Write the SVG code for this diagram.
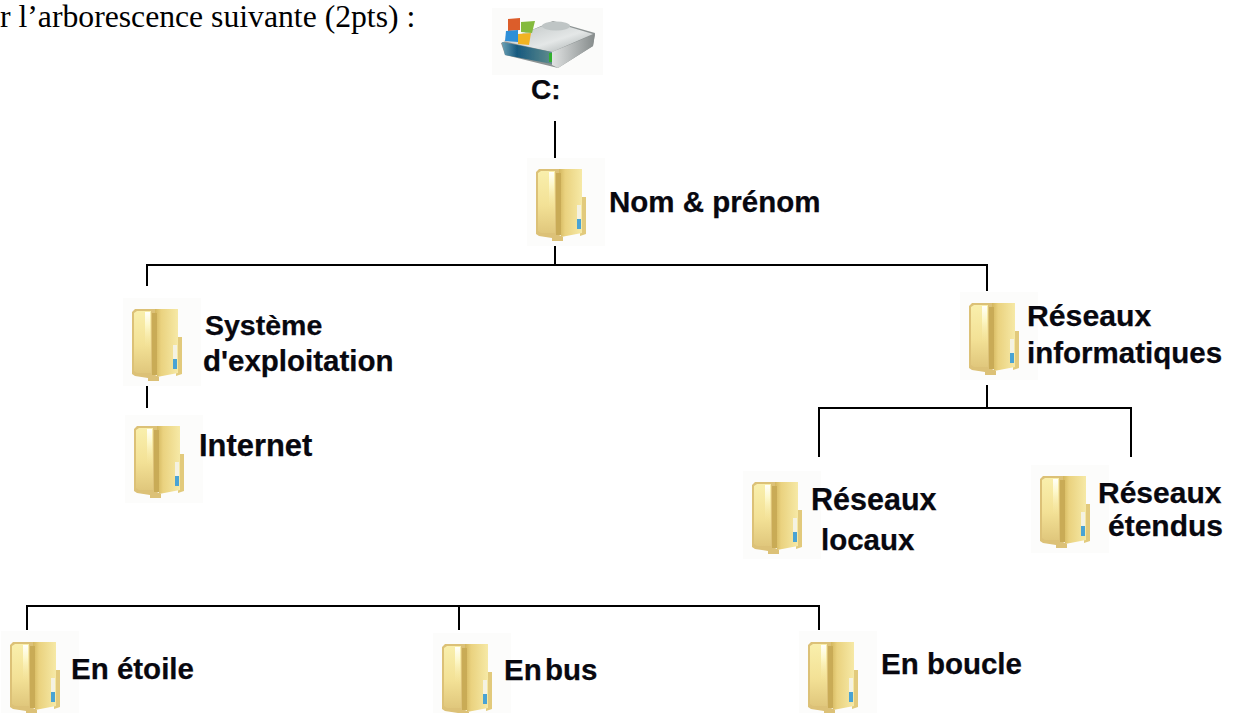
<svg xmlns="http://www.w3.org/2000/svg" width="1233" height="713" viewBox="0 0 1233 713">
<style>
.l{font-family:"Liberation Sans",Arial,sans-serif;font-weight:700;font-size:29.5px;fill:#08080f;stroke:#08080f;stroke-width:.25}
.c{fill:none;stroke:#000;stroke-width:2}
</style>
<defs>
<filter id="s" x="-10%" y="-10%" width="120%" height="120%"><feGaussianBlur stdDeviation=".7"/></filter>
<linearGradient id="a" x1="0" x2="0" y1="0" y2="1"><stop offset="0" stop-color="#f9efac"/><stop offset=".55" stop-color="#f3e196"/><stop offset="1" stop-color="#e0c77c"/></linearGradient>
<linearGradient id="b" x1="0" x2="1" y1="0" y2="0"><stop offset="0" stop-color="#d0b259"/><stop offset=".3" stop-color="#ead27f"/><stop offset="1" stop-color="#f6e9a6"/></linearGradient>
<linearGradient id="w" x1="0" x2="0" y1="0" y2="1"><stop offset="0" stop-color="#fffffa"/><stop offset=".35" stop-color="#fdf8cc"/><stop offset="1" stop-color="#f6e7a2" stop-opacity="0"/></linearGradient>
<linearGradient id="d" x1="0" x2="1" y1="0" y2="1"><stop offset="0" stop-color="#b8bebe"/><stop offset=".6" stop-color="#e4e7e7"/><stop offset="1" stop-color="#a0a7a7"/></linearGradient>
<linearGradient id="e" x1="0" x2="1" y1="0" y2="0"><stop offset="0" stop-color="#6aa0b4"/><stop offset=".3" stop-color="#17597f"/><stop offset="1" stop-color="#5f8c8c"/></linearGradient>
<linearGradient id="g" x1="0" x2="1" y1="0" y2="0"><stop offset="0" stop-color="#e0e2e2"/><stop offset="1" stop-color="#858b8b"/></linearGradient>
<g id="f">
<rect x="-9" y="-10" width="78" height="88" fill="#fcfcfb"/>
<g filter="url(#s)">
<path d="M45 29h5v37l-6 2z" fill="#e2ca7c"/>
<path d="M22 1h24v64l-21 4z" fill="url(#b)"/>
<path d="M0 4l3-3h20v66l4 2v4h-11v-3l-13-2-3-2z" fill="#dcc177"/>
<path d="M2 5l3-2h14v62h-14l-3-2z" fill="url(#a)"/>
<rect x="13" y="4" width="5" height="36" fill="url(#w)"/>
<rect x="20" y="5" width="5" height="62" fill="#c9ab56"/>
<rect x="41" y="37" width="4" height="14" fill="#f4f2e2"/>
<rect x="41" y="51" width="4" height="10" fill="#4aa3d4"/>
</g>
</g>
</defs>
<text x="0" y="27" font-family="'Liberation Serif',serif" font-size="31.7" fill="#000">r l’arborescence suivante (2pts) :</text>
<g id="connectors">
<path class="c" d="M555 121V265M147 286V265H987V291M147 385V408M987 385V408M819 457V408H1131V457M27 630V606H819V630M459 606V630"/>
</g>
<g id="drive">
<rect x="492" y="8" width="111" height="67" fill="#fbfbfa"/>
<g filter="url(#s)">
<path d="M501 43l52-22 42 12-2 13-35 22-53-13z" fill="#8d9393"/>
<path d="M503 41l50-19 40 12-41 18z" fill="url(#d)"/>
<path d="M552 52l43-18-2 12-35 22-6-3z" fill="url(#g)"/>
<path d="M502 42l50 10v12l-47-9z" fill="url(#e)"/>
<ellipse cx="556" cy="26" rx="14" ry="4.500" fill="#bfc5c5"/>
<path d="M508 19l12-1 0 12-12 1z" fill="#dc5d2c"/><path d="M521 22l14-1-3 12-11-1z" fill="#84ba3c"/><path d="M506 31l12-1v12l-13-1z" fill="#2f8fd8"/><path d="M518 34l13-1-2 12-11-1z" fill="#f1b324"/>
</g>
<rect x="549" y="53" width="3" height="9" fill="#32b02e"/>
<text class="l" x="531" y="99" style="font-size:28px">C:</text>
</g>
<g id="n1"><use href="#f" x="536" y="168"/><text class="l" x="609" y="212">Nom &amp; prénom</text></g>
<g id="n2"><use href="#f" x="132" y="308"/><text class="l"><tspan x="205" y="335" style="font-size:28.5px">Système</tspan><tspan x="203" y="371">d'exploitation</tspan></text></g>
<g id="n3"><use href="#f" x="134" y="425"/><text class="l" x="199" y="456" style="font-size:30.900px">Internet</text></g>
<g id="n4"><use href="#f" x="969" y="302"/><text class="l"><tspan x="1027" y="326" style="font-size:30.200px">Réseaux</tspan><tspan x="1027" y="363">informatiques</tspan></text></g>
<g id="n5"><use href="#f" x="752" y="481"/><text class="l"><tspan x="811" y="510" style="font-size:30.500px">Réseaux</tspan><tspan x="821" y="550">locaux</tspan></text></g>
<g id="n6"><use href="#f" x="1040" y="475"/><text class="l"><tspan x="1098" y="503" style="font-size:30px">Réseaux</tspan><tspan x="1108" y="536" style="font-size:30px">étendus</tspan></text></g>
<g id="n7"><use href="#f" x="10" y="641"/><text class="l" x="71" y="679">En étoile</text></g>
<g id="n8"><use href="#f" x="442" y="643"/><text class="l" x="504" y="680" style="word-spacing:-5px">En bus</text></g>
<g id="n9"><use href="#f" x="808" y="641"/><text class="l" x="881" y="674">En boucle</text></g>
</svg>
